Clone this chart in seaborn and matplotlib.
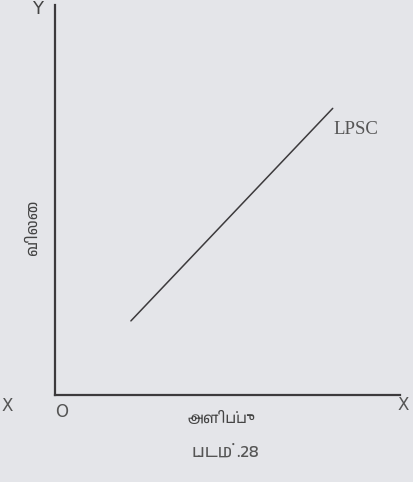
import matplotlib
matplotlib.use("Agg")
import matplotlib.pyplot as plt
from matplotlib import font_manager
import seaborn as sns
import pandas as pd

# LPSC curve (axis units 0-10)
supply = [2.2, 8.05]
price = [1.9, 7.35]
curve_label = 'LPSC'
x_title = 'அளிப்பு'
y_title = 'விலை'
caption = 'படம் .28'

# look for a font that has Tamil glyphs
tamil = None
for f in font_manager.findSystemFonts():
    if 'tamil' in f.lower() or 'lohit' in f.lower():
        tamil = font_manager.FontProperties(fname=f).get_name()
        font_manager.fontManager.addfont(f)
        break

sns.set_theme(style='white')
bg = '#e4e5e9'
ink = '#3c3a3c'
plt.rcParams['font.family'] = ['DejaVu Sans']
tfam = [tamil, 'DejaVu Sans'] if tamil else ['Noto Sans', 'DejaVu Sans']

fig = plt.figure(figsize=(4.14, 4.82), dpi=100, facecolor=bg)
ax = fig.add_axes([55/414, 87/482, 345/414, 390/482])
ax.set_facecolor(bg)

df = pd.DataFrame({'supply': supply, 'price': price})
sns.lineplot(data=df, x='supply', y='price', ax=ax, color=ink, linewidth=1.1)

ax.set_xlim(0, 10)
ax.set_ylim(0, 10)
ax.set_xticks([])
ax.set_yticks([])
ax.set_xlabel('')
ax.set_ylabel('')
for s in ['top', 'right']:
    ax.spines[s].set_visible(False)
for s in ['left', 'bottom']:
    ax.spines[s].set_color(ink)
    ax.spines[s].set_linewidth(1.6)

ax.text(8.08, 6.8, curve_label, family='Liberation Serif', fontsize=13.5,
        color='#555555', va='center', ha='left')

ft = fig.transFigure
def px(x, y):
    return x/414, 1 - y/482

fig.text(*px(38, 9), 'Y', fontsize=13, color='#444444', ha='center', va='center', transform=ft)
fig.text(*px(7, 406), 'X', fontsize=12, color='#555555', ha='center', va='center', transform=ft)
fig.text(*px(62, 412), 'O', fontsize=12, color='#555555', ha='center', va='center', transform=ft)
fig.text(*px(403, 405), 'X', fontsize=12, color='#555555', ha='center', va='center', transform=ft)
fig.text(*px(221, 418), x_title, family=tfam, fontsize=10.5, color='#444444',
         ha='center', va='center', transform=ft)
fig.text(*px(33, 228), y_title, family=tfam, fontsize=11, color='#444444', rotation=90,
         ha='center', va='center', transform=ft)
fig.text(*px(225, 452), caption, family=tfam, fontsize=12.5, color='#555555',
         ha='center', va='center', transform=ft)

fig.savefig('out.png', dpi=100, facecolor=bg)
